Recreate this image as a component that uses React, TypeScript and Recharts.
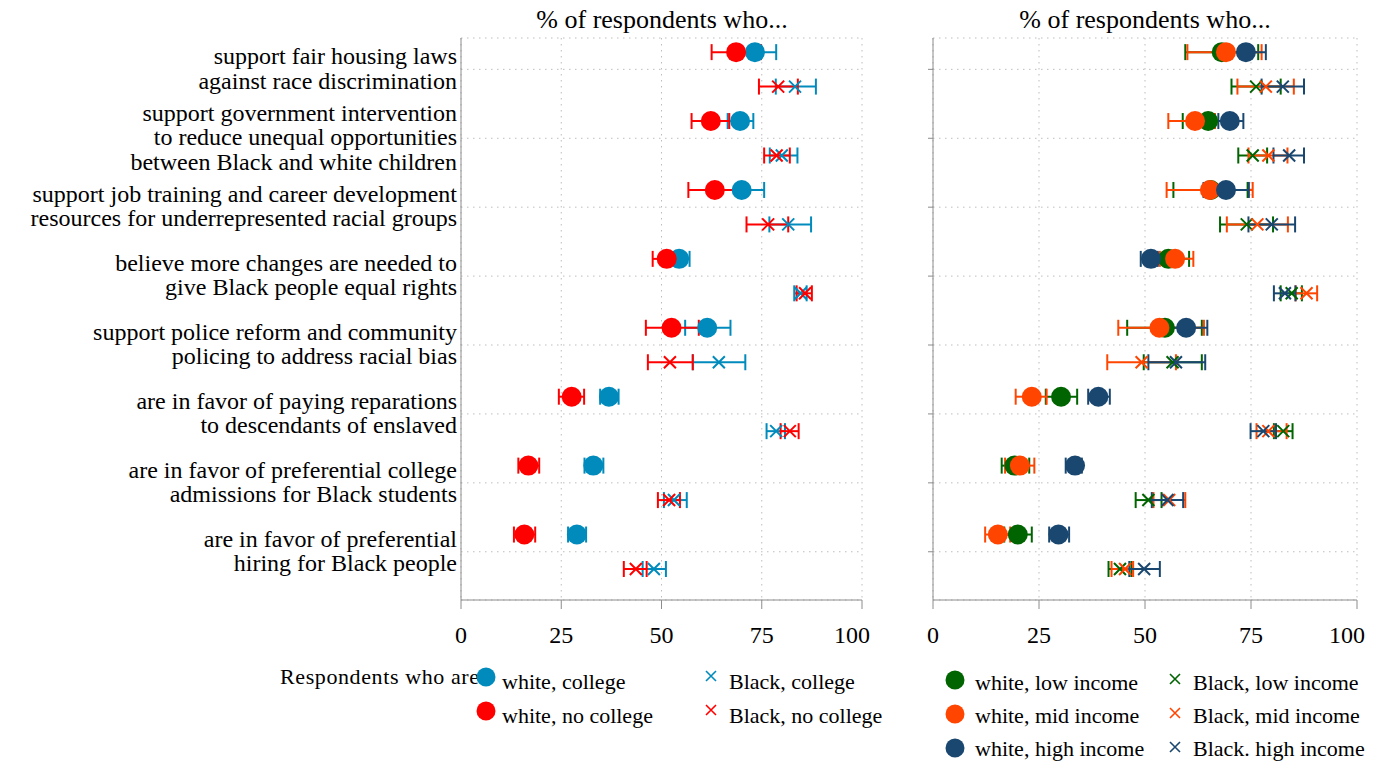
import React from "react";
import { ScatterChart, Scatter, XAxis, YAxis, CartesianGrid, ErrorBar } from "recharts";

type Est = [number, number, number]; // estimate, lower CI, upper CI

const questions: string[][] = [
  ["support fair housing laws", "against race discrimination"],
  ["support government intervention", "to reduce unequal opportunities", "between Black and white children"],
  ["support job training and career development", "resources for underrepresented racial groups"],
  ["believe more changes are needed to", "give Black people equal rights"],
  ["support police reform and community", "policing to address racial bias"],
  ["are in favor of paying reparations", "to descendants of enslaved"],
  ["are in favor of preferential college", "admissions for Black students"],
  ["are in favor of preferential", "hiring for Black people"],
];

const xTicks = [0, 25, 50, 75, 100];
const rowTicks = [1.5, 3.5, 5.5, 7.5, 9.5, 11.5, 13.5, 15.5];

// left panel: by education
const whiteCollege: Est[] = [
  [73.3, 68.3, 78.6], [69.6, 66.5, 72.9], [70.0, 64.3, 75.6], [54.4, 52.0, 57.0],
  [61.4, 55.9, 67.2], [36.9, 34.7, 39.3], [33.0, 30.8, 35.5], [28.9, 26.7, 31.2],
];
const whiteNoCollege: Est[] = [
  [68.6, 62.5, 74.8], [62.3, 57.5, 66.9], [63.3, 56.7, 70.2], [51.3, 47.8, 54.8],
  [52.5, 46.1, 59.3], [27.6, 24.4, 30.7], [16.8, 14.3, 19.5], [15.8, 13.2, 18.5],
];
const blackCollege: Est[] = [
  [83.3, 78.5, 88.5], [80.0, 77.0, 83.9], [81.6, 76.9, 87.3], [84.7, 83.1, 86.2],
  [64.3, 57.8, 70.9], [78.6, 76.2, 80.8], [53.1, 50.6, 56.3], [48.1, 45.3, 51.1],
];
const blackNoCollege: Est[] = [
  [79.1, 74.3, 84.0], [78.7, 75.6, 82.0], [76.6, 71.2, 81.6], [85.8, 83.7, 87.5],
  [52.1, 46.6, 57.8], [82.0, 79.7, 84.2], [51.9, 49.1, 54.6], [43.6, 40.6, 46.3],
];

// right panel: by income
const whiteLow: Est[] = [
  [68.1, 59.5, 76.7], [64.9, 58.9, 71.0], [65.5, 56.7, 74.2], [55.5, 51.5, 60.4],
  [54.7, 45.8, 63.4], [30.2, 26.6, 34.0], [19.2, 16.2, 22.7], [20.0, 16.8, 23.3],
];
const whiteMid: Est[] = [
  [69.1, 60.0, 77.5], [61.8, 55.5, 66.5], [65.3, 55.1, 75.4], [57.1, 53.5, 61.4],
  [53.4, 43.7, 63.9], [23.3, 19.5, 26.8], [20.5, 17.0, 23.9], [15.3, 12.3, 18.2],
];
const whiteHigh: Est[] = [
  [73.8, 69.1, 78.5], [70.0, 67.3, 73.2], [69.1, 63.8, 74.5], [51.4, 49.0, 53.0],
  [59.7, 54.3, 64.7], [39.0, 36.6, 41.7], [33.5, 31.3, 35.1], [29.6, 27.4, 32.1],
];
const blackLow: Est[] = [
  [76.2, 70.4, 82.0], [75.4, 72.0, 78.8], [74.0, 67.7, 80.2], [84.6, 82.0, 87.0],
  [56.5, 49.7, 63.4], [82.6, 80.4, 84.8], [50.8, 47.8, 53.9], [44.1, 41.4, 46.8],
];
const blackMid: Est[] = [
  [78.5, 71.8, 85.1], [79.1, 74.4, 83.6], [76.5, 69.3, 83.7], [88.1, 85.5, 90.6],
  [49.2, 41.1, 57.3], [79.1, 76.3, 83.4], [55.7, 52.0, 59.5], [45.3, 42.1, 47.2],
];
const blackHigh: Est[] = [
  [82.5, 77.5, 87.5], [84.0, 80.3, 87.5], [79.9, 74.4, 85.4], [83.0, 80.4, 85.5],
  [57.3, 50.8, 64.2], [77.9, 74.9, 80.9], [55.3, 51.6, 59.0], [49.8, 46.3, 53.5],
];

const BLUE = "#008bbc";
const RED = "#ff0000";
const GREEN = "#006400";
const ORANGE = "#ff4500";
const NAVY = "#1a476f";
const FONT = "'Liberation Serif', serif";

type Series = { name: string; color: string; kind: "dot" | "cross"; values: Est[] };

const leftSeries: Series[] = [
  { name: "white, college", color: BLUE, kind: "dot", values: whiteCollege },
  { name: "white, no college", color: RED, kind: "dot", values: whiteNoCollege },
  { name: "Black, college", color: BLUE, kind: "cross", values: blackCollege },
  { name: "Black, no college", color: RED, kind: "cross", values: blackNoCollege },
];

const rightSeries: Series[] = [
  { name: "white, low income", color: GREEN, kind: "dot", values: whiteLow },
  { name: "white, mid income", color: ORANGE, kind: "dot", values: whiteMid },
  { name: "white, high income", color: NAVY, kind: "dot", values: whiteHigh },
  { name: "Black, low income", color: GREEN, kind: "cross", values: blackLow },
  { name: "Black, mid income", color: ORANGE, kind: "cross", values: blackMid },
  { name: "Black. high income", color: NAVY, kind: "cross", values: blackHigh },
];

const toPoints = (s: Series) =>
  s.values.map(([v, lo, hi], i) => ({
    x: v,
    y: i * 2 + (s.kind === "dot" ? 1 : 2),
    err: [v - lo, hi - v],
  }));

const markerShape = (s: Series) => (p: any) =>
  s.kind === "dot" ? (
    <circle cx={p.cx} cy={p.cy} r={10} fill={s.color} />
  ) : (
    <path
      d={`M${p.cx - 6},${p.cy - 6}L${p.cx + 6},${p.cy + 6}M${p.cx - 6},${p.cy + 6}L${p.cx + 6},${p.cy - 6}`}
      stroke={s.color}
      strokeWidth={2}
      fill="none"
    />
  );

const noShape = () => <g />;

function QuestionTick(props: any) {
  const { x, y, payload } = props;
  const lines = questions[Math.round((payload.value - 1.5) / 2)] || [];
  const lh = 24.5;
  return (
    <text x={x - 2} y={y} textAnchor="end" fontFamily={FONT} fontSize={24} fill="#000">
      {lines.map((l, i) => (
        <tspan key={i} x={x - 2} dy={i === 0 ? -((lines.length - 1) / 2) * lh + 7 : lh}>
          {l}
        </tspan>
      ))}
    </text>
  );
}

function Panel({ series, width, yWidth, labels }: { series: Series[]; width: number; yWidth: number; labels: boolean }) {
  return (
    <ScatterChart width={width} height={660} margin={{ top: 38, right: 8, bottom: 0, left: 0 }}>
      <CartesianGrid stroke="#bdbdbd" strokeDasharray="1.5 4.5" />
      <XAxis
        type="number"
        dataKey="x"
        domain={[0, 100]}
        ticks={xTicks}
        allowDataOverflow
        height={60}
        tickSize={9}
        tickMargin={17}
        stroke="#8c8c8c"
        tick={{ fill: "#000", fontSize: 24, fontFamily: FONT }}
      />
      <YAxis
        type="number"
        dataKey="y"
        domain={[0.59, 16.9]}
        reversed
        ticks={rowTicks}
        allowDataOverflow
        width={yWidth}
        stroke="#8c8c8c"
        tickLine={!labels}
        tickSize={labels ? 0 : 5}
        tick={labels ? <QuestionTick /> : () => <g />}
      />
      {series.map((s) => (
        <Scatter key={s.name} name={s.name} data={toPoints(s)} shape={markerShape(s)} isAnimationActive={false} />
      ))}
      {series.map((s) => (
        <Scatter key={s.name + "-ci"} data={toPoints(s)} shape={noShape} isAnimationActive={false}>
          <ErrorBar dataKey="err" direction="x" width={8} stroke={s.color} strokeWidth={2} />
        </Scatter>
      ))}
    </ScatterChart>
  );
}

function LegendItem({ s, x, y, textX, textY }: { s: Series; x: number; y: number; textX: number; textY: number }) {
  return (
    <>
      <div
        style={{
          position: "absolute",
          left: textX,
          top: textY - 13,
          fontSize: 22,
          lineHeight: "26px",
          fontFamily: FONT,
          whiteSpace: "nowrap",
        }}
      >
        {s.name}
      </div>
      <svg style={{ position: "absolute", left: x - 11, top: y - 11 }} width={22} height={22}>
        {s.kind === "dot" ? (
          <circle cx={11} cy={11} r={9.5} fill={s.color} />
        ) : (
          <path d="M6,6L16,16M6,16L16,6" stroke={s.color} strokeWidth={1.6} fill="none" />
        )}
      </svg>
    </>
  );
}

export default function App() {
  const lDots = leftSeries.filter((s) => s.kind === "dot");
  const lCross = leftSeries.filter((s) => s.kind === "cross");
  const rDots = rightSeries.filter((s) => s.kind === "dot");
  const rCross = rightSeries.filter((s) => s.kind === "cross");
  const title = {
    position: "absolute" as const,
    top: 5,
    width: 400,
    textAlign: "center" as const,
    fontSize: 26,
    fontFamily: FONT,
    lineHeight: "30px",
  };
  return (
    <div style={{ position: "absolute", left: 0, top: 0, width: 1395, height: 763, background: "#fff", fontFamily: FONT }}>
      <div style={{ ...title, left: 662 - 200 }}>% of respondents who...</div>
      <div style={{ ...title, left: 1145 - 200 }}>% of respondents who...</div>
      <div style={{ position: "absolute", left: 0, top: 0 }}>
        <Panel series={leftSeries} width={870} yWidth={461} labels />
      </div>
      <div style={{ position: "absolute", left: 925, top: 0 }}>
        <Panel series={rightSeries} width={440} yWidth={8} labels={false} />
      </div>
      {/* legend title sits under the first marker, as in the original */}
      <div
        style={{
          position: "absolute",
          left: 280,
          top: 664,
          whiteSpace: "nowrap",
          fontSize: 22,
          letterSpacing: 0.6,
          lineHeight: "26px",
        }}
      >
        Respondents who are
      </div>
      {lDots.map((s, i) => (
        <LegendItem key={s.name} s={s} x={486} y={677 + i * 34} textX={502} textY={682 + i * 34} />
      ))}
      {lCross.map((s, i) => (
        <LegendItem key={s.name} s={s} x={711} y={676 + i * 34} textX={729} textY={682 + i * 34} />
      ))}
      {rDots.map((s, i) => (
        <LegendItem key={s.name} s={s} x={955} y={680 + i * 34} textX={975} textY={683 + i * 33} />
      ))}
      {rCross.map((s, i) => (
        <LegendItem key={s.name} s={s} x={1175} y={679 + i * 34} textX={1193} textY={683 + i * 33} />
      ))}
    </div>
  );
}
